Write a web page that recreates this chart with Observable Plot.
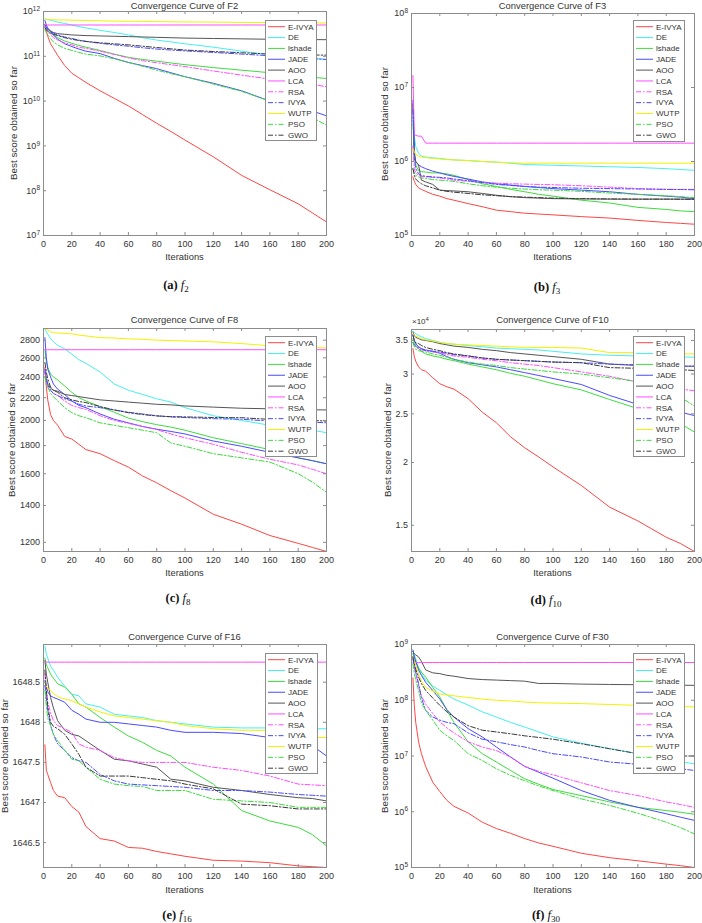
<!DOCTYPE html>
<html><head><meta charset="utf-8">
<script src="https://cdn.jsdelivr.net/npm/d3@7"></script>
<script src="https://cdn.jsdelivr.net/npm/@observablehq/plot@0.6"></script>
<style>
body{margin:0;background:#fff;}
#fig{position:relative;width:702px;height:923px;overflow:hidden;background:#fff;font-family:"Liberation Sans",Arial,sans-serif;color:#333;}
.abs{position:absolute;white-space:nowrap;}
.title,.xlab{font-size:9.4px;line-height:12px;height:12px;text-align:center;}
.ylab{font-size:9.8px;line-height:12px;height:12px;width:220px;text-align:center;transform:rotate(-90deg);}
.cap{font-family:"Liberation Serif","Times New Roman",serif;font-size:12.5px;line-height:16px;width:120px;text-align:center;color:#111;}
.cap sub{font-size:9px;vertical-align:-3px;line-height:0;}
.legend{background:#fff;border:1px solid #8c8c8c;box-sizing:border-box;}
.x104{font-size:8px;line-height:10px;}
.x104 sup{font-size:6px;vertical-align:3px;line-height:0;}
</style></head><body><div id="fig"></div>
<script>
// ---------------- data ----------------
const algorithms = ["E-IVYA","DE","lshade","JADE","AOO","LCA","RSA","IVYA","WUTP","PSO","GWO"];
const iterations = [1,2,3,5,7,10,15,20,25,30,40,50,60,70,80,90,100,120,140,160,180,190,200];
const xTicks = [0,20,40,60,80,100,120,140,160,180,200];

const f2Ticks = [1e7,1e8,1e9,1e10,1e11,1e12];
const f3Ticks = [1e5,1e6,1e7,1e8];
const f8Ticks = [1200,1400,1600,1800,2000,2200,2400,2600,2800];
const f10Ticks = [15000,20000,25000,30000,35000];
const f16Ticks = [1646.5,1647,1647.5,1648,1648.5];
const f30Ticks = [1e5,1e6,1e7,1e8,1e9];

// rows follow the order of `algorithms`, columns follow `iterations`
const F2 = [
 [5.2e11,3.6e11,2.8e11,1.9e11,1.5e11,1.05e11,6.2e10,4.2e10,3.3e10,2.6e10,1.7e10,1.15e10,7.8e9,5e9,3.2e9,2.1e9,1.35e9,5.7e8,2.2e8,1.05e8,5.1e7,3.2e7,2e7],
 [6.8e11,6.7e11,6.6e11,6.4e11,6.2e11,5.8e11,5.4e11,5.0e11,4.6e11,4.3e11,3.8e11,3.4e11,3.0e11,2.6e11,2.3e11,2.1e11,1.9e11,1.6e11,1.3e11,1.08e11,9.5e10,9e10,8.5e10],
 [4.8e11,4.2e11,3.8e11,3.3e11,3e11,2.6e11,2.2e11,1.95e11,1.75e11,1.6e11,1.35e11,1.12e11,9.5e10,8.5e10,7.8e10,7.1e10,6.5e10,5.6e10,4.9e10,4.3e10,3.7e10,3.4e10,3.2e10],
 [6.3e11,5e11,4.3e11,3.6e11,3e11,2.4e11,1.9e11,1.65e11,1.45e11,1.3e11,1.15e11,9e10,7.3e10,6.2e10,5.3e10,4.3e10,3.5e10,2.5e10,1.7e10,1.0e10,7.2e9,6e9,4.7e9],
 [4.5e11,4.2e11,4e11,3.7e11,3.4e11,3.2e11,3.1e11,3.0e11,2.95e11,2.9e11,2.85e11,2.8e11,2.75e11,2.7e11,2.65e11,2.6e11,2.55e11,2.5e11,2.45e11,2.4e11,2.38e11,2.36e11,2.35e11],
 [5e11,5e11,5e11,5e11,5e11,5e11,5e11,5e11,5e11,5e11,5e11,5e11,5e11,5e11,5e11,5e11,5e11,5e11,5e11,5e11,5e11,5e11,5e11],
 [4.5e11,4e11,3.5e11,3e11,2.6e11,2.3e11,2e11,1.8e11,1.6e11,1.5e11,1.3e11,1.1e11,9.2e10,8e10,7.2e10,6.5e10,5.9e10,4.7e10,3.8e10,3.1e10,2.6e10,2.35e10,2.1e10],
 [5e11,4.5e11,4e11,3.6e11,3.3e11,3e11,2.7e11,2.5e11,2.3e11,2.15e11,1.95e11,1.8e11,1.68e11,1.55e11,1.45e11,1.38e11,1.32e11,1.22e11,1.12e11,1.03e11,9.3e10,8.9e10,8.5e10],
 [6.7e11,6.7e11,6.6e11,6.6e11,6.55e11,6.5e11,6.45e11,6.4e11,6.35e11,6.3e11,6.2e11,6.1e11,6.05e11,6e11,5.95e11,5.9e11,5.85e11,5.8e11,5.7e11,5.65e11,5.6e11,5.57e11,5.55e11],
 [4e11,3.4e11,3e11,2.5e11,2.1e11,1.8e11,1.5e11,1.35e11,1.22e11,1.12e11,1.02e11,8.8e10,7.3e10,6e10,4.9e10,4.1e10,3.5e10,2.4e10,1.65e10,1.0e10,6e9,4.3e9,2.9e9],
 [4.3e11,3.9e11,3.6e11,3.3e11,3.1e11,2.9e11,2.6e11,2.4e11,2.25e11,2.15e11,2e11,1.9e11,1.8e11,1.68e11,1.57e11,1.47e11,1.38e11,1.28e11,1.2e11,1.12e11,1.08e11,1.07e11,1.06e11]
];
const F3 = [
 [6.2e5,5.4e5,4.9e5,4.4e5,4.2e5,3.95e5,3.6e5,3.4e5,3.15e5,3e5,2.7e5,2.45e5,2.2e5,2.1e5,2e5,1.95e5,1.9e5,1.8e5,1.72e5,1.6e5,1.5e5,1.46e5,1.42e5],
 [4e6,2.2e6,1.6e6,1.3e6,1.18e6,1.15e6,1.12e6,1.1e6,1.07e6,1.05e6,1.03e6,1.0e6,9.8e5,9.5e5,9.1e5,9e5,8.9e5,8.7e5,8.5e5,8.3e5,8.0e5,7.8e5,7.6e5],
 [3.2e6,1.5e6,9e5,7.5e5,7.3e5,7.2e5,7e5,7e5,6.8e5,6.5e5,5.7e5,5e5,4.6e5,4.2e5,3.9e5,3.6e5,3.4e5,3e5,2.75e5,2.4e5,2.25e5,2.15e5,2.1e5],
 [6.7e6,1.2e6,1e6,9e5,8.5e5,8e5,7.4e5,7e5,6.6e5,6.3e5,5.8e5,5.3e5,5e5,4.8e5,4.6e5,4.45e5,4.3e5,4.1e5,3.9e5,3.6e5,3.4e5,3.3e5,3.15e5],
 [6e6,1.3e6,1.0e6,9e5,5.6e5,5.3e5,4.9e5,4.1e5,4.05e5,4e5,3.9e5,3.7e5,3.5e5,3.35e5,3.25e5,3.2e5,3.15e5,3.12e5,3.1e5,3.1e5,3.1e5,3.1e5,3.1e5],
 [1.45e7,2.3e6,2.25e6,2.2e6,2.2e6,1.77e6,1.77e6,1.77e6,1.77e6,1.77e6,1.77e6,1.77e6,1.77e6,1.77e6,1.77e6,1.77e6,1.77e6,1.77e6,1.77e6,1.77e6,1.77e6,1.77e6,1.77e6],
 [1.6e6,8e5,7e5,6.5e5,6.3e5,6.2e5,6.1e5,6e5,5.8e5,5.6e5,5.4e5,5.2e5,5.1e5,5e5,4.95e5,4.9e5,4.85e5,4.7e5,4.5e5,4.3e5,4.2e5,4.2e5,4.2e5],
 [5e6,1.1e6,8e5,6.8e5,6.5e5,6.3e5,6.2e5,6.1e5,6e5,5.8e5,5.5e5,5.2e5,4.9e5,4.75e5,4.6e5,4.5e5,4.45e5,4.35e5,4.3e5,4.25e5,4.2e5,4.18e5,4.15e5],
 [1.5e6,1.35e6,1.25e6,1.18e6,1.15e6,1.13e6,1.1e6,1.08e6,1.06e6,1.05e6,1.03e6,1.0e6,9.8e5,9.6e5,9.5e5,9.5e5,9.5e5,9.5e5,9.5e5,9.5e5,9.5e5,9.5e5,9.5e5],
 [8e5,7e5,6.5e5,6.2e5,6.0e5,5.9e5,5.7e5,5.6e5,5.5e5,5.4e5,5.0e5,4.7e5,4.5e5,4.35e5,4.25e5,4.15e5,4.1e5,3.95e5,3.75e5,3.6e5,3.45e5,3.35e5,3.25e5],
 [8e5,6.5e5,5.8e5,5.3e5,5e5,4.7e5,4.4e5,4.1e5,3.95e5,3.85e5,3.7e5,3.55e5,3.45e5,3.35e5,3.3e5,3.25e5,3.2e5,3.15e5,3.12e5,3.1e5,3.1e5,3.09e5,3.08e5]
];
const F8 = [
 [2500,2300,2180,2050,2000,1960,1870,1850,1810,1770,1740,1690,1645,1585,1540,1490,1445,1350,1295,1235,1195,1175,1155],
 [2940,2900,2870,2820,2780,2740,2700,2640,2580,2540,2450,2330,2270,2230,2190,2160,2110,2040,2000,1960,1940,1920,1900],
 [2690,2560,2500,2430,2400,2370,2310,2250,2200,2170,2120,2070,2020,1990,1965,1945,1920,1860,1815,1770,1710,1690,1668],
 [2830,2600,2480,2400,2330,2280,2230,2170,2130,2110,2055,2010,1980,1950,1928,1910,1890,1835,1795,1750,1710,1690,1668],
 [2450,2380,2330,2290,2270,2260,2230,2220,2210,2200,2180,2170,2160,2150,2140,2135,2125,2115,2105,2100,2095,2092,2090],
 [2690,2690,2690,2690,2690,2690,2690,2690,2690,2690,2690,2690,2690,2690,2690,2690,2690,2690,2690,2690,2690,2690,2690],
 [2450,2350,2300,2270,2240,2220,2170,2130,2110,2095,2040,2000,1975,1950,1925,1890,1860,1810,1750,1700,1660,1630,1600],
 [2480,2380,2320,2270,2240,2220,2190,2170,2140,2125,2110,2090,2070,2055,2040,2030,2025,2015,2010,1995,1990,1985,1981],
 [2940,2930,2920,2900,2890,2885,2880,2875,2860,2850,2830,2825,2815,2810,2800,2795,2790,2780,2760,2735,2720,2715,2710],
 [2400,2330,2300,2240,2210,2170,2110,2066,2040,2023,1980,1960,1940,1920,1900,1820,1795,1740,1710,1680,1600,1545,1480],
 [2550,2450,2380,2300,2270,2250,2200,2180,2165,2155,2120,2090,2066,2050,2038,2032,2030,2025,2023,2009,2005,2000,1995]
];
const F10 = [
 [33700,32500,31800,31000,30600,30400,29500,28700,28300,28000,26800,25200,24000,22500,21400,20500,19600,18000,16300,15300,14200,13800,13300],
 [36500,36300,36100,35800,35600,35300,35000,34700,34500,34400,34200,34000,33800,33700,33600,33500,33300,32900,32700,32600,32500,32450,32400],
 [35300,34700,34200,33700,33300,32900,32600,32400,32100,31900,31400,31000,30600,30100,29700,29200,28700,27900,26700,25600,24800,23900,23000],
 [36000,35000,34500,34000,33700,33500,33300,33000,32500,32100,31600,31300,31000,30600,30200,29800,29400,28600,27200,26100,25500,25200,24800],
 [36400,35800,35500,35300,35100,35000,34800,34500,34300,34100,33900,33600,33400,33100,32900,32700,32500,32100,31400,31200,31200,31100,31100],
 [36800,36800,36800,36800,36800,36800,36800,36800,36800,36800,36800,36800,36800,36800,36800,36800,36800,36800,36800,36800,36800,36800,36800],
 [34700,34200,33900,33700,33500,33400,33200,33100,32800,32600,32400,32100,31900,31600,31400,31200,30900,30300,29700,28900,28300,28000,27800],
 [34700,34300,34100,33900,33700,33400,33300,33200,33000,32800,32600,32300,32100,32000,31900,31800,31700,31600,31400,31300,31200,31100,31100],
 [36100,35900,35700,35500,35300,35100,34900,34700,34500,34400,34300,34200,34100,34000,33900,33900,33900,33800,33100,33100,33000,32900,32900],
 [34700,34000,33600,33400,33300,33200,32900,32700,32400,32100,31700,31400,31200,30900,30700,30500,30300,30000,29500,29000,28000,27000,25900],
 [35800,35000,34600,34500,34200,33900,33600,33400,33100,32900,32600,32300,32100,32000,31900,31800,31700,31600,30900,30800,30600,30600,30500]
];
const F16 = [
 [1647.72,1647.4,1647.35,1647.25,1647.15,1647.08,1647.06,1646.95,1646.88,1646.7,1646.55,1646.52,1646.44,1646.43,1646.39,1646.36,1646.33,1646.28,1646.27,1646.25,1646.21,1646.2,1646.19],
 [1648.95,1648.85,1648.8,1648.7,1648.65,1648.56,1648.45,1648.35,1648.33,1648.23,1648.19,1648.1,1648.08,1648.06,1648.02,1648.0,1647.98,1647.94,1647.93,1647.93,1647.93,1647.92,1647.92],
 [1648.8,1648.72,1648.68,1648.6,1648.55,1648.48,1648.44,1648.35,1648.23,1648.19,1648.06,1647.94,1647.83,1647.75,1647.65,1647.58,1647.44,1647.23,1646.9,1646.77,1646.69,1646.6,1646.46],
 [1648.52,1648.45,1648.38,1648.33,1648.31,1648.29,1648.25,1648.15,1648.1,1648.04,1648.0,1648.0,1647.98,1647.96,1647.94,1647.9,1647.875,1647.875,1647.86,1647.81,1647.79,1647.71,1647.58],
 [1648.77,1648.6,1648.5,1648.31,1648.18,1648.02,1647.9,1647.85,1647.83,1647.77,1647.65,1647.54,1647.52,1647.48,1647.44,1647.29,1647.27,1647.19,1647.15,1647.1,1647.06,1647.05,1647.02],
 [1648.75,1648.75,1648.75,1648.75,1648.75,1648.75,1648.75,1648.75,1648.75,1648.75,1648.75,1648.75,1648.75,1648.75,1648.75,1648.75,1648.75,1648.75,1648.75,1648.75,1648.75,1648.75,1648.75],
 [1648.6,1648.4,1648.25,1648.12,1648.02,1647.96,1647.92,1647.875,1647.73,1647.69,1647.65,1647.56,1647.52,1647.5,1647.5,1647.5,1647.5,1647.44,1647.4,1647.33,1647.23,1647.22,1647.21],
 [1648.46,1648.3,1648.15,1647.96,1647.85,1647.73,1647.65,1647.56,1647.52,1647.5,1647.35,1647.27,1647.23,1647.22,1647.21,1647.2,1647.19,1647.15,1647.15,1647.13,1647.1,1647.09,1647.08],
 [1648.48,1648.45,1648.42,1648.4,1648.36,1648.32,1648.29,1648.27,1648.23,1648.19,1648.13,1648.08,1648.06,1648.04,1648.02,1648.0,1647.96,1647.92,1647.9,1647.9,1647.875,1647.81,1647.81],
 [1648.4,1648.2,1648.05,1647.96,1647.85,1647.77,1647.65,1647.54,1647.52,1647.44,1647.29,1647.23,1647.21,1647.2,1647.15,1647.15,1647.15,1647.04,1647.02,1647.0,1646.94,1646.94,1646.94],
 [1648.65,1648.4,1648.2,1648.0,1647.95,1647.92,1647.85,1647.73,1647.6,1647.44,1647.33,1647.33,1647.33,1647.31,1647.29,1647.27,1647.23,1647.17,1646.98,1646.96,1646.92,1646.92,1646.92]
];
const F30 = [
 [2.5e8,8e7,4e7,1.8e7,1.1e7,6.5e6,3.4e6,2.3e6,1.6e6,1.25e6,9.5e5,6.5e5,5e5,4.1e5,3.3e5,2.75e5,2.4e5,1.8e5,1.5e5,1.32e5,1.15e5,1.08e5,1.0e5],
 [7.5e8,6.5e8,5.5e8,3.8e8,3e8,2.3e8,1.8e8,1.5e8,1.25e8,1.05e8,8.2e7,6.2e7,5e7,4e7,3.3e7,2.7e7,2.2e7,1.7e7,1.35e7,1.1e7,9e6,8e6,7.2e6],
 [6.9e8,5.5e8,4.8e8,3.8e8,3.2e8,2.6e8,1.7e8,1.15e8,6.6e7,4e7,1.8e7,1.1e7,7.8e6,5.5e6,3.9e6,3.1e6,2.5e6,1.95e6,1.5e6,1.2e6,1.05e6,9.8e5,9e5],
 [8e8,6e8,5e8,3.5e8,2.8e8,2.1e8,1.5e8,1.05e8,6.8e7,5e7,3.1e7,2.2e7,1.45e7,9.6e6,6.5e6,5.1e6,4e6,2.4e6,1.6e6,1.2e6,9.2e5,8e5,7e5],
 [7.5e8,6.8e8,6.5e8,6e8,5e8,3.5e8,3.1e8,3e8,2.8e8,2.7e8,2.45e8,2.35e8,2.3e8,2.25e8,2.2e8,2e8,2e8,1.95e8,1.92e8,1.9e8,1.88e8,1.86e8,1.85e8],
 [4.75e8,4.75e8,4.75e8,4.75e8,4.75e8,4.75e8,4.75e8,4.75e8,4.75e8,4.75e8,4.75e8,4.75e8,4.75e8,4.75e8,4.75e8,4.75e8,4.75e8,4.75e8,4.75e8,4.75e8,4.75e8,4.75e8,4.75e8],
 [6e8,4e8,3e8,1.8e8,1.2e8,8.5e7,5.8e7,4.1e7,3.2e7,2.6e7,1.8e7,1.45e7,1.25e7,9.6e6,6.5e6,5.3e6,4.6e6,3.3e6,2.4e6,1.95e6,1.5e6,1.35e6,1.2e6],
 [5.5e8,4e8,3.2e8,2e8,1.1e8,6.6e7,5e7,4.4e7,4e7,3.8e7,2.6e7,2e7,1.8e7,1.6e7,1.45e7,1.25e7,1.1e7,9.6e6,7.8e6,7.1e6,6.3e6,5.9e6,5.5e6],
 [6e8,5e8,4.3e8,3e8,2.2e8,1.7e8,1.45e8,1.3e8,1.25e8,1.2e8,1.12e8,1.05e8,1e8,9.7e7,9.3e7,9e7,8.9e7,8.7e7,8.4e7,8.1e7,7.9e7,7.7e7,7.6e7],
 [4.5e8,3e8,2.3e8,1.5e8,9e7,6.6e7,4.4e7,2.9e7,2.3e7,1.9e7,1.1e7,8.3e6,5.9e6,4.5e6,3.6e6,2.9e6,2.4e6,1.7e6,1.3e6,9.4e5,6.5e5,5.2e5,4e5],
 [6e8,4.5e8,3.6e8,2.6e8,2e8,1.5e8,1.1e8,8.1e7,6.2e7,5e7,3.5e7,2.9e7,2.7e7,2.5e7,2.3e7,2.15e7,2e7,1.66e7,1.35e7,1.1e7,1.02e7,1e7,1e7]
];

// ---------------- styles ----------------
const DD = "5,2,1.5,2";
const lineStyles = [
  {color:"#ff4545", dash:null},
  {color:"#45f0f0", dash:null},
  {color:"#3ddc3d", dash:null},
  {color:"#4a4aff", dash:null},
  {color:"#555555", dash:null},
  {color:"#ff4dff", dash:null},
  {color:"#ff4dff", dash:DD},
  {color:"#4a4aff", dash:DD},
  {color:"#f2f200", dash:null},
  {color:"#3ddc3d", dash:DD},
  {color:"#3a3a3a", dash:DD}
];
const pow10 = d => "10^" + Math.round(Math.log10(d));
const panels = [
  {data:F2, left:0, top:0, W:350, H:270, mL:43, mR:24, mT:11, mB:35, type:"log", domain:[1e7,1e12], ticks:f2Ticks, fmt:pow10,
   title:"Convergence Curve of F2", titleY:6, xlabY:257, ylabX:14, cap:["(a)","2"], capX:176, capY:285, legend:[265,20,52,121]},
  {data:F3, left:350, top:0, W:352, H:270, mL:61, mR:8, mT:13, mB:35, type:"log", domain:[1e5,1e8], ticks:f3Ticks, fmt:pow10,
   title:"Convergence Curve of F3", titleY:6, xlabY:257, ylabX:385, cap:["(b)","3"], capX:547, capY:287, legend:[633,20,52,122]},
  {data:F8, left:0, top:305, W:350, H:275, mL:43, mR:24, mT:23, mB:29, type:"log", domain:[1155,2940], ticks:f8Ticks, fmt:d=>String(d),
   title:"Convergence Curve of F8", titleY:320, xlabY:573, ylabX:12, cap:["(c)","8"], capX:178, capY:598, legend:[265,336,52,121]},
  {data:F10, left:350, top:305, W:352, H:275, mL:61, mR:8, mT:24, mB:29, type:"log", domain:[13300,36800], ticks:f10Ticks, fmt:d=>String(d/1e4),
   title:"Convergence Curve of F10", titleY:320, xlabY:573, ylabX:388, cap:["(d)","10"], capX:546, capY:600, legend:[633,336,52,121], x104:true},
  {data:F16, left:0, top:620, W:350, H:280, mL:43, mR:24, mT:24, mB:33, type:"linear", domain:[1646.19,1648.97], ticks:f16Ticks, fmt:d=>String(d),
   title:"Convergence Curve of F16", titleY:637, xlabY:890, ylabX:5, cap:["(e)","16"], capX:177, capY:915, legend:[265,653,53,121]},
  {data:F30, left:350, top:620, W:352, H:280, mL:61, mR:8, mT:24, mB:33, type:"log", domain:[1e5,1e9], ticks:f30Ticks, fmt:pow10,
   title:"Convergence Curve of F30", titleY:637, xlabY:890, ylabX:385, cap:["(f)","30"], capX:546, capY:915, legend:[633,653,52,121]}
];

const fig = document.getElementById("fig");
const NS = "http://www.w3.org/2000/svg";
const AX = "#8c8c8c";

function addDiv(cls, html, css) {
  const d = document.createElement("div");
  d.className = "abs " + cls;
  d.innerHTML = html;
  Object.assign(d.style, css);
  fig.appendChild(d);
  return d;
}

panels.forEach(p => {
  const fw = p.W - p.mL - p.mR, fh = p.H - p.mT - p.mB;
  const marks = [];
  algorithms.forEach((alg, i) => {
    const rows = iterations.map((it, j) => ({it, v: p.data[i][j], alg}));
    marks.push(Plot.line(rows, {x:"it", y:"v", stroke: lineStyles[i].color, strokeWidth: 1,
      strokeDasharray: lineStyles[i].dash || undefined, clip: true}));
  });
  marks.push(Plot.frame({stroke: AX, strokeWidth: 1}));
  marks.push(Plot.tickX(xTicks, {x: d => d, insetTop: fh - 3, stroke: AX}));
  marks.push(Plot.tickX(xTicks, {x: d => d, insetBottom: fh - 3, stroke: AX}));
  marks.push(Plot.tickY(p.ticks, {y: d => d, insetRight: fw - 3, stroke: AX}));
  marks.push(Plot.tickY(p.ticks, {y: d => d, insetLeft: fw - 3, stroke: AX}));
  const svg = Plot.plot({
    width: p.W, height: p.H,
    marginLeft: p.mL, marginRight: p.mR, marginTop: p.mT, marginBottom: p.mB,
    x: {domain: [0, 200], ticks: xTicks, tickSize: 0, tickPadding: 5, label: null},
    y: {type: p.type, domain: p.domain, ticks: p.ticks, tickFormat: p.fmt, tickSize: 0, tickPadding: 3.5, label: null},
    style: {fontSize: "9px", fontFamily: "'Liberation Sans', Arial, sans-serif", color: "#333", background: "transparent", overflow: "visible"},
    marks
  });
  // superscript exponents for log ticks
  svg.querySelectorAll('[aria-label="y-axis tick label"] text').forEach(t => {
    const m = /^10\^(\d+)$/.exec(t.textContent);
    if (m) {
      t.textContent = "10";
      const ts = document.createElementNS(NS, "tspan");
      ts.setAttribute("dy", "-0.5em");
      ts.setAttribute("font-size", "6.5px");
      ts.textContent = m[1];
      t.appendChild(ts);
    }
  });
  svg.style.position = "absolute";
  svg.style.left = p.left + "px";
  svg.style.top = p.top + "px";
  fig.appendChild(svg);

  const fx = p.left + p.mL, fy = p.top + p.mT;
  addDiv("title", p.title, {left: fx + "px", width: fw + "px", top: (p.titleY - 6) + "px"});
  addDiv("xlab", "Iterations", {left: fx + "px", width: fw + "px", top: (p.xlabY - 6) + "px"});
  addDiv("ylab", "Best score obtained so far", {left: (p.ylabX - 110) + "px", top: (fy + fh / 2 - 6) + "px"});
  addDiv("cap", `<b>${p.cap[0]}</b> <i>f</i><sub>${p.cap[1]}</sub>`, {left: (p.capX - 60) + "px", top: (p.capY - 8) + "px"});
  if (p.x104) addDiv("x104", "×10<sup>4</sup>", {left: "412px", top: "317px"});

  // legend
  const [lx, ly, lw, lh] = p.legend;
  const lg = addDiv("legend", "", {left: lx + "px", top: ly + "px", width: lw + "px", height: lh + "px"});
  const ls = document.createElementNS(NS, "svg");
  ls.setAttribute("width", lw - 2); ls.setAttribute("height", lh - 2);
  ls.style.display = "block";
  algorithms.forEach((alg, i) => {
    const y = 5.7 + i * 10.85;
    const ln = document.createElementNS(NS, "line");
    ln.setAttribute("x1", 2); ln.setAttribute("x2", 19);
    ln.setAttribute("y1", y); ln.setAttribute("y2", y);
    ln.setAttribute("stroke", lineStyles[i].color);
    ln.setAttribute("stroke-width", 1);
    if (lineStyles[i].dash) ln.setAttribute("stroke-dasharray", lineStyles[i].dash);
    ls.appendChild(ln);
    const tx = document.createElementNS(NS, "text");
    tx.setAttribute("x", 22); tx.setAttribute("y", y);
    tx.setAttribute("dy", "0.35em");
    tx.setAttribute("font-size", "8px");
    tx.setAttribute("font-family", "'Liberation Sans', Arial, sans-serif");
    tx.setAttribute("fill", "#333");
    tx.textContent = alg;
    ls.appendChild(tx);
  });
  lg.appendChild(ls);
});
</script></body></html>
